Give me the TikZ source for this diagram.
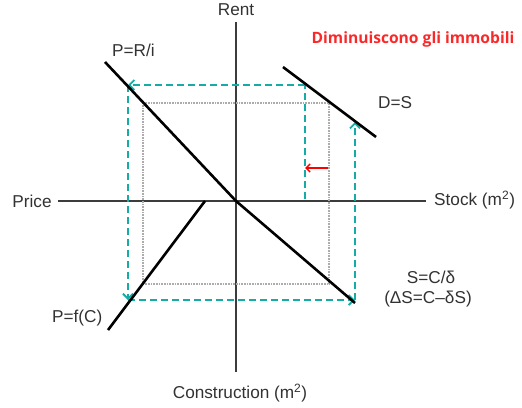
\documentclass[tikz,border=0pt]{standalone}
\usepackage{fontspec}
\setmainfont{Liberation Sans}
\newfontfamily\titlefont{Open Sans}
\usetikzlibrary{arrows.meta}
\definecolor{teal1}{RGB}{22,172,166}
\definecolor{axisgray}{RGB}{60,60,60}
\definecolor{labgray}{RGB}{50,50,50}
\definecolor{titlered}{RGB}{250,40,40}
\tikzset{
  axisline/.style={draw=axisgray,line width=2pt},
  curveline/.style={draw=black,line width=2.6pt},
  dotline/.style={draw=gray!65,line width=1.8pt,dash pattern=on 1pt off 0.6pt},
  tealline/.style={draw=teal1,line width=2pt,dash pattern=on 7pt off 4pt},
  tealarrow/.style={tealline,-{Straight Barb[length=5pt,width=10pt,line width=1.8pt]}},
  lab/.style={text=labgray,font=\fontsize{17.2}{20}\selectfont,inner sep=0pt},
}
\begin{document}
\begin{tikzpicture}[x=1pt,y=-1pt]
\useasboundingbox (0,0) rectangle (522,407);
% axes
\coordinate (vtop) at (236,22);
\coordinate (vbot) at (236,372);
\coordinate (hl) at (58,201);
\coordinate (hr) at (426,201);
\draw[axisline] (vtop) -- (vbot);
\draw[axisline] (hl) -- (hr);
% gray dotted rectangle
\coordinate (g1) at (143,103);
\coordinate (g2) at (329,103);
\coordinate (g3) at (329,284);
\coordinate (g4) at (143,284);
\draw[dotline] (g1) -- (g2) -- (g3) -- (g4) -- cycle;
% teal dashed paths
\coordinate (t0) at (305,199);
\coordinate (t1) at (305,85);
\coordinate (t2) at (128,85);
\coordinate (t3) at (128,300);
\coordinate (t4) at (355,300);
\coordinate (t5) at (355,122);
\draw[tealline] (t0) -- (t1);
\draw[tealarrow] (t1) -- (t2);
\draw[tealarrow] (t2) -- (t3);
\draw[tealarrow] (t3) -- (t4);
\draw[tealarrow] (t4) -- (t5);
% curves
\coordinate (pr1) at (105,62);
\coordinate (o) at (236,201);
\coordinate (sc2) at (355,303);
\coordinate (ds1) at (283,67);
\coordinate (ds2) at (376,137);
\coordinate (pf1) at (205,201);
\coordinate (pf2) at (108,330);
\draw[curveline] (pr1) -- (o);
\draw[curveline] (o) -- (sc2);
\draw[curveline] (ds1) -- (ds2);
\draw[curveline] (pf1) -- (pf2);
% red arrow
\coordinate (ra1) at (328,168);
\coordinate (ra2) at (305,168);
\draw[draw=red,line width=1.6pt,-{Straight Barb[length=4pt,width=8pt,line width=1.5pt]}] (ra1) -- (ra2);
% labels
\node[lab] (rent) at (236,10) {Rent};
\node[lab] (price) at (32,201) {Price};
\node[lab,anchor=west] (stock) at (434,200) {Stock (m\textsuperscript{2})};
\node[lab] (constr) at (240,393) {Construction (m\textsuperscript{2})};
\node[lab,anchor=west] (prilab) at (112,50) {P=R/i};
\node[lab,anchor=west] (dslab) at (378,103) {D=S};
\node[lab] (sclab1) at (431,277) {S=C/δ};
\node[lab] (sclab2) at (428,299) {(ΔS=C–δS)};
\node[lab,anchor=west] (pflab) at (52,318) {P=f(C)};
\node[inner sep=0pt,text=titlered,font=\titlefont\bfseries\fontsize{15.6}{18}\selectfont] (title) at (413,39) {Diminuiscono gli immobili};
\end{tikzpicture}
\end{document}
